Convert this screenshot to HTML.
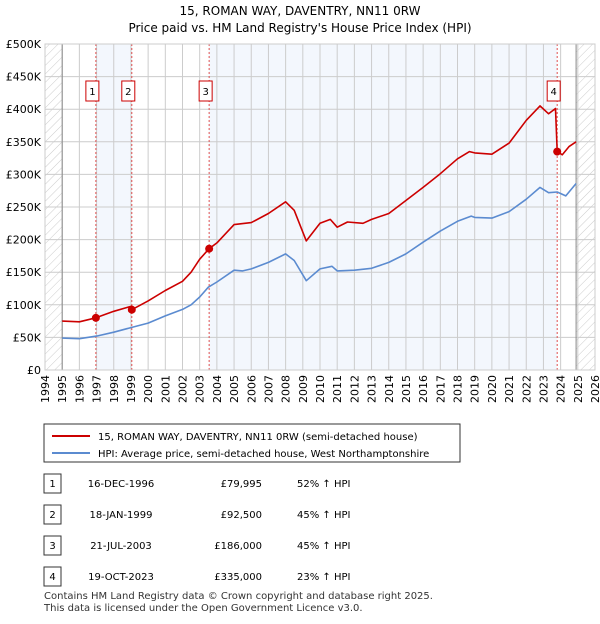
<!DOCTYPE html>
<html><head><meta charset="utf-8"><style>
body{margin:0;background:#fff;font-family:"DejaVu Sans","Liberation Sans",sans-serif;}
svg text{font-family:"DejaVu Sans","Liberation Sans",sans-serif;}
</style></head><body>
<svg width="600" height="620" xmlns="http://www.w3.org/2000/svg">
<defs><pattern id="hatch" width="6" height="6" patternUnits="userSpaceOnUse" patternTransform="rotate(45)"><line x1="0" y1="0" x2="0" y2="6" stroke="#ccc" stroke-width="1"/></pattern></defs>
<text x="300" y="15" text-anchor="middle" font-size="12">15, ROMAN WAY, DAVENTRY, NN11 0RW</text>
<text x="300" y="32" text-anchor="middle" font-size="12">Price paid vs. HM Land Registry's House Price Index (HPI)</text>
<g id="plot"></g>
<g>
<rect x="44" y="424" width="416" height="38" fill="#fff" stroke="#333"/>
<line x1="52" y1="436" x2="90" y2="436" stroke="#cc0000" stroke-width="2"/>
<text x="98" y="440" font-size="10">15, ROMAN WAY, DAVENTRY, NN11 0RW (semi-detached house)</text>
<line x1="52" y1="453" x2="90" y2="453" stroke="#5b8bd0" stroke-width="2"/>
<text x="98" y="457" font-size="10">HPI: Average price, semi-detached house, West Northamptonshire</text>
</g>
<g id="table" font-size="10"></g>
<text x="44" y="599" font-size="10" fill="#333">Contains HM Land Registry data © Crown copyright and database right 2025.</text>
<text x="44" y="611" font-size="10" fill="#333">This data is licensed under the Open Government Licence v3.0.</text>
</svg>
<script>
const hpiYears=[1995,1996,1997,1998,1999,2000,2001,2002,2002.5,2003,2003.5,2004,2005,2005.5,2006,2007,2008,2008.5,2009.2,2010,2010.7,2011,2012,2013,2014,2015,2016,2017,2018,2018.8,2019,2020,2021,2022,2022.8,2023.3,2023.8,2024.3,2024.9];
const hpiValues=[49,48,52,58,65,72,83,93,100,112,127,135,153,152,155,165,178,168,137,155,159,152,153,156,165,178,196,213,228,236,234,233,243,262,280,272,273,267,286];
const propYears=[1995,1996,1996.96,1998,1999.05,1999.05,2000,2001,2002,2002.5,2003,2003.55,2004,2005,2006,2007,2008,2008.5,2009.2,2010,2010.6,2011,2011.6,2012.5,2013,2014,2015,2016,2017,2018,2018.7,2019,2020,2021,2022,2022.8,2023.3,2023.7,2023.8,2024.1,2024.5,2024.9];
const propValues=[75,74,80,90,98,92.5,106,122,136,150,170,186,195,223,226,240,258,245,198,225,231,219,227,225,231,240,260,280,301,324,335,333,331,348,383,405,393,401,335,330,343,350];
const saleLabels=["1","2","3","4"];
const saleYears=[1996.96,1999.05,2003.55,2023.8];
const saleValues=[79.995,92.5,186,335];
const saleDates=["16-DEC-1996","18-JAN-1999","21-JUL-2003","19-OCT-2023"];
const salePrices=["£79,995","£92,500","£186,000","£335,000"];
const salePct=["52% ↑ HPI","45% ↑ HPI","45% ↑ HPI","23% ↑ HPI"];
const yTicks=[0,50,100,150,200,250,300,350,400,450,500];
const xTicks=[];for(let y=1994;y<=2026;y++)xTicks.push(y);

const X0=45,X1=595,Y0=370,Y1=44;
const xs=y=>X0+(y-1994)*(X1-X0)/32;
const ys=v=>Y0-v*(Y0-Y1)/500;
const NS="http://www.w3.org/2000/svg";
const plot=document.getElementById('plot');
function mk(tag,attrs,parent){const e=document.createElementNS(NS,tag);for(const k in attrs)e.setAttribute(k,attrs[k]);(parent||plot).appendChild(e);return e;}

let r=mk('rect',{x:xs(1994),y:Y1,width:xs(1995)-xs(1994),height:Y0-Y1,fill:'url(#hatch)'});


r=mk('rect',{x:xs(2024.9),y:Y1,width:xs(2026)-xs(2024.9),height:Y0-Y1,fill:'url(#hatch)'});


r=mk('rect',{x:xs(saleYears[0]),y:Y1,width:xs(saleYears[1])-xs(saleYears[0]),height:Y0-Y1,fill:'#eef3fc',opacity:0.7});


r=mk('rect',{x:xs(saleYears[2]),y:Y1,width:xs(saleYears[3])-xs(saleYears[2]),height:Y0-Y1,fill:'#eef3fc',opacity:0.7});



xTicks.forEach(t=>{
 const l=mk('line',{x1:xs(t),x2:xs(t),y1:Y1,y2:Y0,stroke:'#ccc','stroke-width':1});
 
 
 const tx=mk('text',{x:0,y:0,'font-size':11,'text-anchor':'end',transform:`translate(${xs(t)+4},${Y0+5}) rotate(-90)`});
 tx.textContent=t;
 
 
});
yTicks.forEach(t=>{
 const l=mk('line',{x1:X0,x2:X1,y1:ys(t),y2:ys(t),stroke:'#ccc','stroke-width':1});
 
 
 const tx=mk('text',{x:X0-4,y:ys(t)+4,'font-size':11,'text-anchor':'end'});
 tx.textContent=t===0?'£0':'£'+t+'K';
 
 
});
[1995,2024.9].forEach(t=>{const l=mk('line',{x1:xs(t),x2:xs(t),y1:Y1,y2:Y0,stroke:'#888','stroke-width':1});
 
 });

saleYears.forEach((y,i)=>{
 const l=mk('line',{x1:xs(y),x2:xs(y),y1:Y1,y2:Y0,stroke:'#e05050','stroke-width':1,'stroke-dasharray':'2,2'});
 
 
});

function path(xa,va,color,name){
 const d=xa.map((x,i)=>(i?'L':'M')+xs(x).toFixed(1)+','+ys(va[i]).toFixed(1)).join('');
 const p=mk('path',{d:d,fill:'none',stroke:color,'stroke-width':1.6,'stroke-linejoin':'round'});
 
 
}
path(hpiYears,hpiValues,'#5b8bd0','hpi-line');
path(propYears,propValues,'#cc0000','property-price-line');

saleYears.forEach((y,i)=>{
 const c=mk('circle',{cx:xs(y),cy:ys(saleValues[i]),r:4,fill:'#cc0000'});
 
 
 const bx=xs(y)+3;
 const b=mk('rect',{x:bx-13,y:81,width:13,height:20,fill:'#fff',stroke:'#cc0000'});
 
 
 const t=mk('text',{x:bx-6.5,y:95,'font-size':10,'text-anchor':'middle'});
 t.textContent=saleLabels[i];
 
 
});
mk('rect',{x:X0,y:Y1,width:X1-X0,height:Y0-Y1,fill:'none',stroke:'#ccc'});

const tbl=document.getElementById('table');
saleLabels.forEach((s,i)=>{
 const yy=483+i*31;
 const b=mk('rect',{x:44,y:yy-9,width:17,height:19,fill:'#fff',stroke:'#333'},tbl);
 
 
 const cells=[[52.5,s,'middle'],[121,saleDates[i],'middle'],[262,salePrices[i],'end'],[297,salePct[i],'start']];
 cells.forEach(c=>{const t=mk('text',{x:c[0],y:yy+4,'text-anchor':c[2],'font-size':10},tbl);t.textContent=c[1];
  
  });
});
</script>
</body></html>
